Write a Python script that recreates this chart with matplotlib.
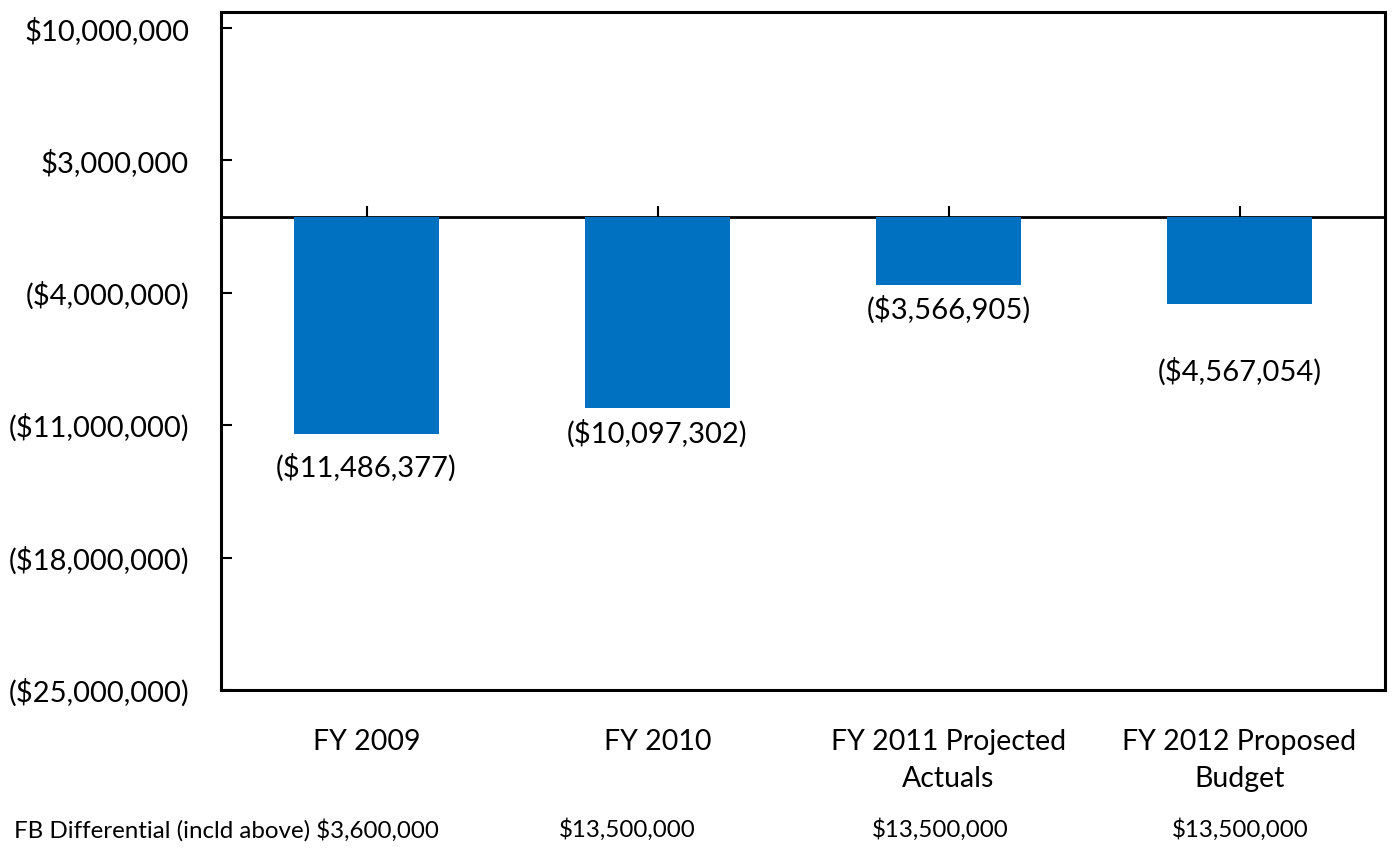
import matplotlib
matplotlib.use("Agg")
import matplotlib.pyplot as plt
from matplotlib.ticker import FuncFormatter

categories = ["FY 2009", "FY 2010", "FY 2011 Projected\nActuals", "FY 2012 Proposed\nBudget"]
values = [-11486377, -10097302, -3566905, -4567054]
fb_label = "FB Differential (incld above)"
fb_values = [3600000, 13500000, 13500000, 13500000]
yticks = [10000000, 3000000, -4000000, -11000000, -18000000, -25000000]

plt.rcParams['font.family'] = ['Lato', 'DejaVu Sans']

W, H = 1395, 856
fig = plt.figure(figsize=(W / 100, H / 100), dpi=100)
ax = fig.add_axes([221 / W, 1 - 690 / H, (1385 - 221) / W, (690 - 12) / H])

x = list(range(len(categories)))
bars = ax.bar(x, values, width=0.5, color="#0070C0", zorder=2)

ax.set_xlim(-0.5, len(categories) - 0.5)
ax.set_ylim(-25000000, 10850000)


def money(v, pos=None):
    if v < 0:
        return "(${:,.0f})".format(-v)
    return "${:,.0f}".format(v)


ax.set_yticks(yticks)
ax.yaxis.set_major_formatter(FuncFormatter(money))
ax.tick_params(axis="y", direction="in", length=8, width=1.5, pad=23, labelsize=21)
ax.set_xticks(x)
ax.set_xticklabels(categories, fontsize=20.5, linespacing=1.55)
ax.tick_params(axis="x", length=0, pad=28)

for s in ax.spines.values():
    s.set_linewidth(2.2)
    s.set_color("black")

# zero line with category ticks pointing up
ylo, yhi = ax.get_ylim()
zero_pos = (0 - ylo) / (yhi - ylo)
sec = ax.secondary_xaxis(zero_pos)
sec.set_xticks(x)
sec.tick_params(axis="x", direction="out", length=8, width=1.5, labeltop=False, labelbottom=False)
for name, s in sec.spines.items():
    s.set_linewidth(2)
    s.set_color("black")

# data labels (offset below bar ends, in points)
label_offsets = [14, 8.5, 8, 39]
for xi, v, off in zip(x, values, label_offsets):
    ax.annotate(money(v), (xi, v), xytext=(0, -off), textcoords="offset points",
                ha="center", va="top", fontsize=21)

# FB differential row
fig.text(14 / W, 1 - 830 / H, fb_label + " " + money(fb_values[0]), ha="left", va="center", fontsize=17.4)
fb_centers = [627, 940, 1240]
for cx, v in zip(fb_centers, fb_values[1:]):
    fig.text(cx / W, 1 - 830 / H, money(v), ha="center", va="center", fontsize=17.4)

fig.savefig("out.png", dpi=100)
